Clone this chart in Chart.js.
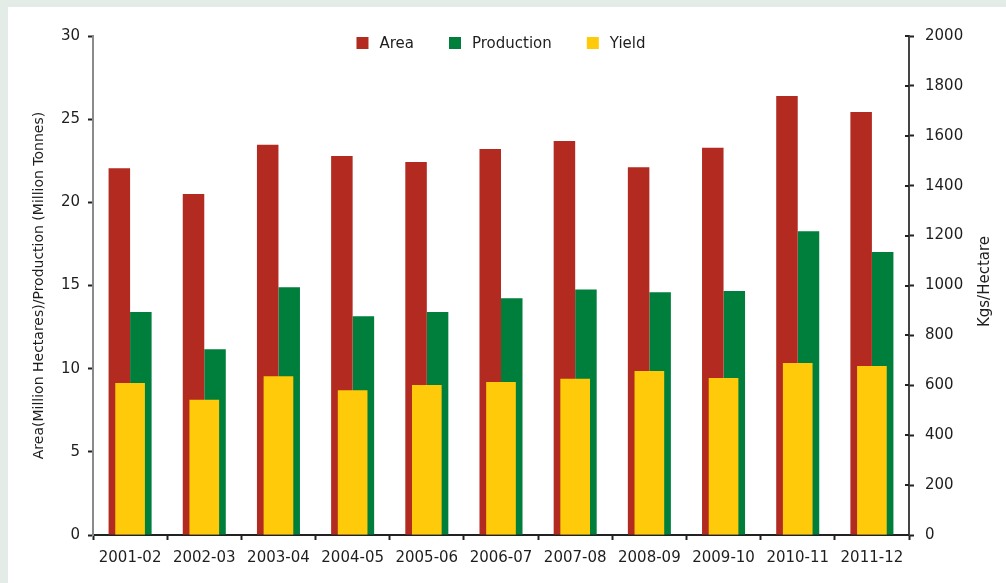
<!DOCTYPE html>
<html>
<head>
<meta charset="utf-8">
<title>Area, Production and Yield</title>
<script src="https://cdn.jsdelivr.net/npm/chart.js@4.4.1/dist/chart.umd.min.js"></script>
<style>
    html, body { margin: 0; padding: 0; background: #e3ece6; }
    #panel { position: absolute; left: 8px; top: 7px; width: 998px; height: 576px; background: #ffffff; }
</style>
</head>
<body>
<div id="panel"><canvas id="cropChart" width="998" height="576"></canvas></div>
<script>
// data
const seasons = ['2001-02', '2002-03', '2003-04', '2004-05', '2005-06', '2006-07',
                 '2007-08', '2008-09', '2009-10', '2010-11', '2011-12'];
const areaValues = [22.05, 20.5, 23.46, 22.78, 22.42, 23.2, 23.68, 22.11, 23.28, 26.4, 25.43];
const productionValues = [13.4, 11.16, 14.9, 13.15, 13.4, 14.24, 14.76, 14.6, 14.67, 18.26, 17.02];
const yieldValues = [609, 542, 636, 580, 601, 613, 626, 657, 629, 689, 677];

const leftAxisTitle = 'Area(Million Hectares)/Production (Million Tonnes)';
const rightAxisTitle = 'Kgs/Hectare';

const fontFamily = '"DejaVu Sans", sans-serif';
const textColor = '#1e1e1e';

// legend drawn across the top of the plot (it sits inside the chart area in the original)
const topLegend = {
    id: 'topLegend',
    afterDraw(chart) {
        const ctx = chart.ctx;
        const area = chart.chartArea;
        ctx.save();
        ctx.font = '15px ' + fontFamily;
        const items = chart.data.datasets.map(ds => ({
            label: ds.label,
            color: ds.backgroundColor,
            w: ctx.measureText(ds.label).width
        }));
        const box = 12, gap = 11, spacing = 35;
        let total = spacing * (items.length - 1);
        items.forEach(it => { total += box + gap + it.w; });
        let x = (area.left + area.right) / 2 - total / 2;
        const y = 36;
        ctx.textBaseline = 'middle';
        ctx.textAlign = 'left';
        items.forEach(it => {
            ctx.fillStyle = it.color;
            ctx.fillRect(x, y - 6, box, box);
            ctx.fillStyle = textColor;
            ctx.fillText(it.label, x + box + gap, y + 1);
            x += box + gap + it.w + spacing;
        });
        ctx.restore();
    }
};

// right axis: title reads bottom-to-top, tick marks cross the axis line
const rightAxisExtras = {
    id: 'rightAxisExtras',
    afterDraw(chart) {
        const ctx = chart.ctx;
        const area = chart.chartArea;
        const scale = chart.scales.y1;
        ctx.save();
        ctx.strokeStyle = '#222';
        ctx.lineWidth = 2;
        scale.ticks.forEach(t => {
            const py = Math.round(scale.getPixelForValue(t.value));
            ctx.beginPath();
            ctx.moveTo(scale.left - 4, py);
            ctx.lineTo(scale.left, py);
            ctx.stroke();
        });
        ctx.font = '15px ' + fontFamily;
        ctx.fillStyle = textColor;
        ctx.textAlign = 'center';
        ctx.textBaseline = 'middle';
        ctx.translate(977, (area.top + area.bottom) / 2 - 4);
        ctx.rotate(-Math.PI / 2);
        ctx.fillText(rightAxisTitle, 0, 0);
        ctx.restore();
    }
};

const ctx = document.getElementById('cropChart').getContext('2d');
new Chart(ctx, {
    type: 'bar',
    data: {
        labels: seasons,
        datasets: [
            {
                label: 'Area',
                data: areaValues,
                backgroundColor: '#b22a20',
                yAxisID: 'y',
                order: 1,
                categoryPercentage: 0.58,
                barPercentage: 1.0
            },
            {
                label: 'Production',
                data: productionValues,
                backgroundColor: '#007e3c',
                yAxisID: 'y',
                order: 1,
                categoryPercentage: 0.58,
                barPercentage: 1.0
            },
            {
                label: 'Yield',
                data: yieldValues,
                backgroundColor: '#ffca0a',
                yAxisID: 'y1',
                order: 0,
                grouped: false,
                categoryPercentage: 1.0,
                barPercentage: 0.4
            }
        ]
    },
    options: {
        responsive: false,
        devicePixelRatio: 1,
        animation: false,
        layout: { padding: { top: 29, left: 0, right: 0, bottom: 0 } },
        plugins: {
            legend: { display: false },
            tooltip: { enabled: false }
        },
        scales: {
            x: {
                grid: { offset: true, drawOnChartArea: false, tickLength: 5, tickColor: '#222', tickWidth: 2 },
                border: { color: '#222', width: 2 },
                ticks: { color: textColor, font: { family: fontFamily, size: 15 }, padding: 9, maxRotation: 0 },
                afterFit(scale) { scale.height = 48; }
            },
            y: {
                position: 'left',
                min: 0,
                max: 30,
                ticks: { stepSize: 5, color: textColor, font: { family: fontFamily, size: 15 }, padding: 8 },
                grid: { drawOnChartArea: false, tickLength: 5, tickColor: '#222', tickWidth: 2 },
                border: { color: '#8a8a8a', width: 2 },
                title: {
                    display: true,
                    text: leftAxisTitle,
                    color: textColor,
                    font: { family: fontFamily, size: 14 },
                    padding: { top: 23, bottom: 0 }
                },
                afterFit(scale) { scale.width = 85; }
            },
            y1: {
                position: 'right',
                min: 0,
                max: 2000,
                ticks: {
                    stepSize: 200,
                    color: textColor,
                    font: { family: fontFamily, size: 15 },
                    padding: 11,
                    callback: value => String(value)
                },
                grid: { drawOnChartArea: false, tickLength: 5, tickColor: '#222', tickWidth: 2 },
                border: { color: '#444', width: 2 },
                afterFit(scale) { scale.width = 97; }
            }
        }
    },
    plugins: [topLegend, rightAxisExtras]
});
</script>
</body>
</html>
